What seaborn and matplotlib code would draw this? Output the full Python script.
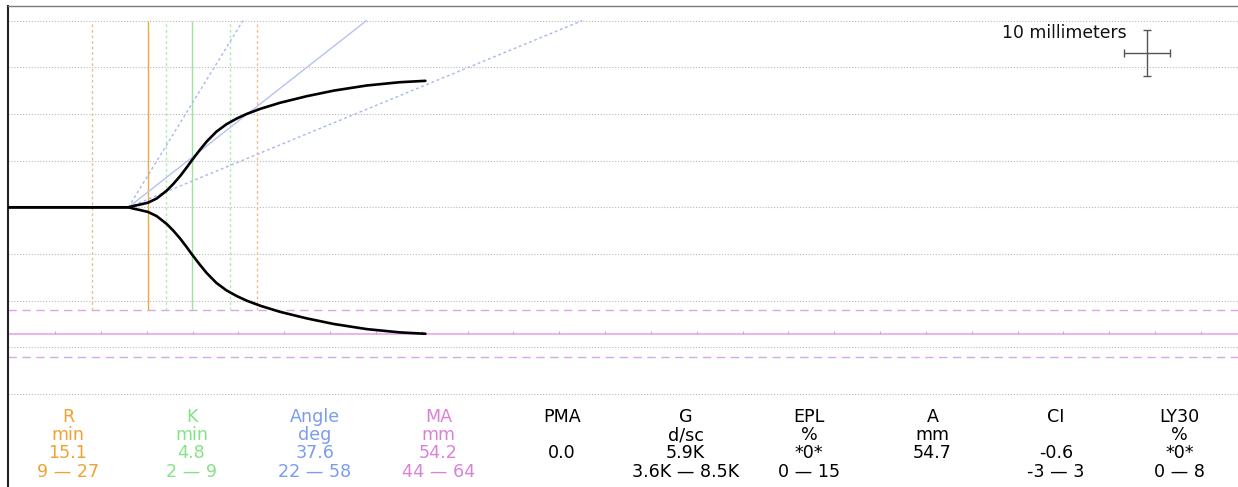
import numpy as np
import pandas as pd
import matplotlib
matplotlib.use("Agg")
import matplotlib.pyplot as plt
import seaborn as sns

# Clot-strength trace: half amplitude (mm) against time (min)
trace_time = [0.0, 13.0, 13.6, 14.3, 15.15, 16.1, 17.2, 17.9, 18.65, 19.35, 19.9,
              20.8, 21.55, 22.6, 23.7, 24.8, 25.9, 27.4, 29.55, 32.45, 35.4, 39.0,
              42.6, 45.4]
trace_amp = [0.0, 0.0, 0.3, 0.6, 1.0, 1.9, 3.6, 5.0, 6.7, 8.5, 10.0,
             12.3, 14.1, 16.2, 17.8, 19.0, 20.0, 21.1, 22.4, 23.8, 25.0, 26.1,
             26.8, 27.1]

# Reported parameters
param_names = ["R", "K", "Angle", "MA", "PMA", "G", "EPL", "A", "CI", "LY30"]
param_units = ["min", "min", "deg", "mm", "", "d/sc", "%", "mm", "", "%"]
param_values = ["15.1", "4.8", "37.6", "54.2", "0.0", "5.9K", "*0*", "54.7", "-0.6", "*0*"]
param_ranges = ["9 — 27", "2 — 9", "22 — 58", "44 — 64", "", "3.6K — 8.5K",
                "0 — 15", "", "-3 — 3", "0 — 8"]

r_time = 15.1
r_range = [9, 27]
k_time = 4.8
k_range = [2, 9]
angle_deg = 37.6
angle_range = [22, 58]
ma_mm = 54.2
ma_range = [44, 64]
clot_onset = 13.0

C_R, C_R_LIGHT = "#eeaa3a", "#f4bc8c"
C_K, C_K_LIGHT = "#9ce49c", "#b0ecb0"
C_ANG, C_ANG_LIGHT = "#b6c2f2", "#a6b6f0"
C_MA, C_MA_LIGHT = "#e4a8ea", "#d8a8e2"
TEXT_COLORS = ["#f0a234", "#86e286", "#7c9cee", "#d882d8",
               "black", "black", "black", "black", "black", "black"]

CHART_SPEED = 2.0          # mm of paper per minute
GRID_TOP = 40

sns.set_style("white")
plt.rcParams["font.family"] = ["DejaVu Sans"]

W, H = 1238, 487
fig = plt.figure(figsize=(W / 100, H / 100), dpi=100)
ax_left, ax_top = 8, 6
ax = fig.add_axes([ax_left / W, 0, (W - ax_left) / W, (H - ax_top) / H])

px_per_min = 9.167
px_per_mm = 4.667
x0_px, y0_px = 9.2, 207.3
ax.set_xlim((ax_left - x0_px) / px_per_min, (W - x0_px) / px_per_min)
ax.set_ylim(-(H - y0_px) / px_per_mm, (y0_px - ax_top) / px_per_mm)

# dotted amplitude grid
for level in range(-40, 41, 10):
    ax.axhline(level, color="#b8b8b8", lw=0.8, ls=(0, (1, 1.6)), zorder=0)

# MA reference band
ax.axhline(-ma_mm / 2, color=C_MA, lw=1.2, zorder=1)
for v in ma_range:
    ax.axhline(-v / 2, color=C_MA_LIGHT, lw=1.0, ls=(0, (6, 4)), zorder=1)

# time ticks on the MA line every 5 minutes
tick_t = np.arange(5, ax.get_xlim()[1], 5)
ax.vlines(tick_t, -ma_mm / 2, -ma_mm / 2 + 0.7, color="#caa8cc", lw=0.8, zorder=1)

# R and K markers
v_lo, v_hi = -ma_range[0] / 2, GRID_TOP
ax.vlines(r_range, v_lo, v_hi, color=C_R_LIGHT, lw=1.0, ls=(0, (2, 2)), zorder=1)
ax.vlines([r_time + k for k in k_range], v_lo, v_hi, color=C_K_LIGHT, lw=1.0,
          ls=(0, (2, 2)), zorder=1)
ax.vlines(r_time + k_time, v_lo, v_hi, color=C_K, lw=1.0, zorder=1)
ax.vlines(r_time, v_lo, v_hi, color=C_R, lw=1.0, zorder=2)

# alpha angle lines from clot onset
for deg, style, col in [(angle_range[0], (0, (2, 2)), C_ANG_LIGHT),
                        (angle_range[1], (0, (2, 2)), C_ANG_LIGHT),
                        (angle_deg, "-", C_ANG)]:
    slope = CHART_SPEED * np.tan(np.radians(deg))
    t_end = clot_onset + GRID_TOP / slope
    ax.plot([clot_onset, t_end], [0, GRID_TOP], color=col, lw=1.0, ls=style, zorder=2)

# the trace, upper and mirrored lower branch
df = pd.DataFrame({"time": trace_time, "amp": trace_amp})
df_low = df.assign(amp=-df["amp"])
for d in (df, df_low):
    sns.lineplot(data=d, x="time", y="amp", sort=False, estimator=None,
                 color="black", lw=1.9, ax=ax, zorder=3)

# 10 mm scale marker
ax.errorbar(124.1, 33.06, xerr=2.5, yerr=5, fmt="none", ecolor="#555555",
            elinewidth=1.0, capsize=3, capthick=1.0)
ax.text(121.9, 37.3, "10 millimeters", ha="right", va="center", fontsize=12.4,
        color="#111111")

# parameter table
col_x = [68 + 123.5 * i for i in range(len(param_names))]
row_y = [416.7, 435.0, 453.3, 471.7]
for i, x in enumerate(col_x):
    for row, texts in zip(row_y, (param_names, param_units, param_values, param_ranges)):
        if texts[i]:
            fig.text(x / W, 1 - row / H, texts[i], ha="center", va="center",
                     fontsize=12.6, color=TEXT_COLORS[i])

ax.set_xlabel("")
ax.set_ylabel("")
ax.set_xticks([])
ax.set_yticks([])
for side in ("right", "bottom"):
    ax.spines[side].set_visible(False)
ax.spines["left"].set_color("#222222")
ax.spines["left"].set_linewidth(1.5)
ax.spines["top"].set_color("#7a7a7a")
ax.spines["top"].set_linewidth(1.0)

fig.savefig("out.png", dpi=100)
